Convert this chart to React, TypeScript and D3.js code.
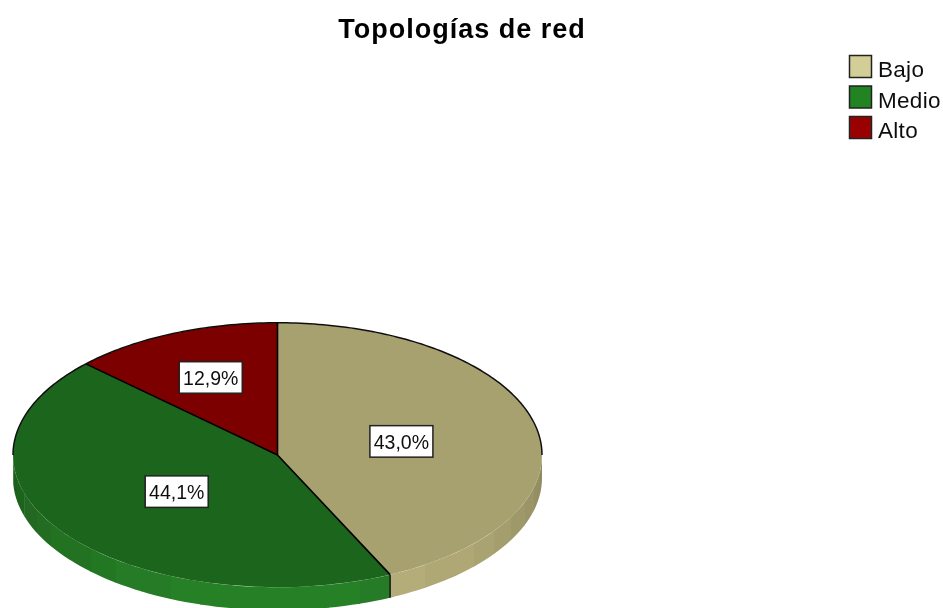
import React from "react";
import * as d3 from "d3";

const titleText = "Topologías de red";
const categories = ["Bajo", "Medio", "Alto"];
const percentages = [43.0, 44.1, 12.9];
const percentLabels = ["43,0%", "44,1%", "12,9%"];
const topColors = ["#a7a170", "#1f651f", "#7b0000"];
const legendColors = ["#d3ce97", "#248324", "#990000"];
const wallLight = ["#b9b27c", "#268026", "#8a0000"];
const wallDark = ["#8f8a60", "#1c5a1c", "#6a0000"];
const labelRadiusFactor = [0.48, 0.47, 0.64];

const W = 943, H = 608;
const cx = 277.5, cy = 455, rx = 264.5, squash = 0.5, depth = 23;
const FONT = "'Liberation Sans', Arial, sans-serif";

const pie = d3.pie<number>().sort(null).value((d) => d);
const arcs = pie(percentages);
const arc = d3.arc<d3.PieArcDatum<number>>().innerRadius(0).outerRadius(rx);
const px = (a: number, r = rx) => cx + r * Math.sin(a);
const py = (a: number, r = rx) => cy - r * squash * Math.cos(a);

// outside wall as short bands, visible on the lower half only
function wallBands() {
  const step = (7 * Math.PI) / 180;
  const out: { d: string; fill: string; key: string }[] = [];
  arcs.forEach((s, i) => {
    const from = Math.max(s.startAngle, Math.PI / 2);
    const to = Math.min(s.endAngle, (3 * Math.PI) / 2);
    if (to <= from) return;
    const col = d3.interpolateRgb(wallDark[i], wallLight[i]);
    for (let a = from; a < to; a += step) {
      const b = Math.min(a + step, to);
      const e = Math.max(0, Math.sin((a + b) / 2 - Math.PI / 2));
      const pts = d3.range(0, 5).map((k) => a + ((b + 0.004 - a) * k) / 4);
      const line = d3.line<[number, number]>();
      const top = pts.map((t) => [px(t), py(t)] as [number, number]);
      const bottom = pts.slice().reverse().map((t) => [px(t), py(t) + depth] as [number, number]);
      const tone = Math.round(e * 8) / 8;
      out.push({ d: line([...top, ...bottom])! + "Z", fill: col(tone), key: `${i}-${a}` });
    }
  });
  return out;
}

const outlineStart = -Math.PI / 2;
const outlineEnd = Math.PI / 2;
const rimPath = d3
  .line<number>()
  .x((t) => px(t))
  .y((t) => py(t))(d3.range(0, 181).map((k) => outlineStart + ((outlineEnd - outlineStart) * k) / 180));

export default function App() {
  return (
    <svg width={W} height={H} viewBox={`0 0 ${W} ${H}`} style={{ position: "absolute", left: 0, top: 0, display: "block", background: "#fff" }}>
      <defs>
        <filter id="soft" x={0} y={0} width={W} height={H} filterUnits="userSpaceOnUse">
          <feGaussianBlur stdDeviation="0.5" />
        </filter>
      </defs>
      <rect x={0} y={0} width={W} height={H} fill="#fff" />
      <g filter="url(#soft)">
        <rect x={0} y={0} width={W} height={H} fill="#fff" />
        <text x={462} y={37.5} textAnchor="middle" fontFamily={FONT} fontWeight="bold" fontSize={27} letterSpacing={1} fill="#000">{titleText}</text>

        {wallBands().map((b) => <path key={b.key} d={b.d} fill={b.fill} stroke="none" />)}
        {arcs.map((s, i) => (
          <path key={i} d={arc(s)!} transform={`translate(${cx},${cy}) scale(1,${squash})`} fill={topColors[i]} stroke="none" />
        ))}
        <path d={rimPath!} fill="none" stroke="#111" strokeWidth={1.5} />
        {arcs.map((s, i) => (
          <line key={i} x1={cx} y1={cy} x2={px(s.startAngle)} y2={py(s.startAngle)} stroke="#000" strokeWidth={1.6} />
        ))}
        <line x1={px(arcs[1].startAngle)} y1={py(arcs[1].startAngle)} x2={px(arcs[1].startAngle)} y2={py(arcs[1].startAngle) + depth} stroke="#111" strokeWidth={1.4} />

        {arcs.map((s, i) => {
          const mid = (s.startAngle + s.endAngle) / 2;
          const r = rx * labelRadiusFactor[i];
          const x = px(mid, r), y = py(mid, r);
          return (
            <g key={i}>
              <rect x={x - 31.5} y={y - 15.5} width={63} height={31.5} fill="#fff" stroke="#222" strokeWidth={1.5} />
              <text x={x} y={y + 7.5} textAnchor="middle" fontFamily={FONT} fontSize={19.5} fill="#111">{percentLabels[i]}</text>
            </g>
          );
        })}

        {categories.map((c, i) => {
          const y = 55.5 + i * 30.5;
          return (
            <g key={c}>
              <rect x={849.5} y={y} width={22} height={22} fill={legendColors[i]} stroke="#222" strokeWidth={1.5} />
              <text x={878} y={y + 21.5} fontFamily={FONT} fontSize={22.5} letterSpacing={0.3} fill="#111">{c}</text>
            </g>
          );
        })}
      </g>
    </svg>
  );
}
